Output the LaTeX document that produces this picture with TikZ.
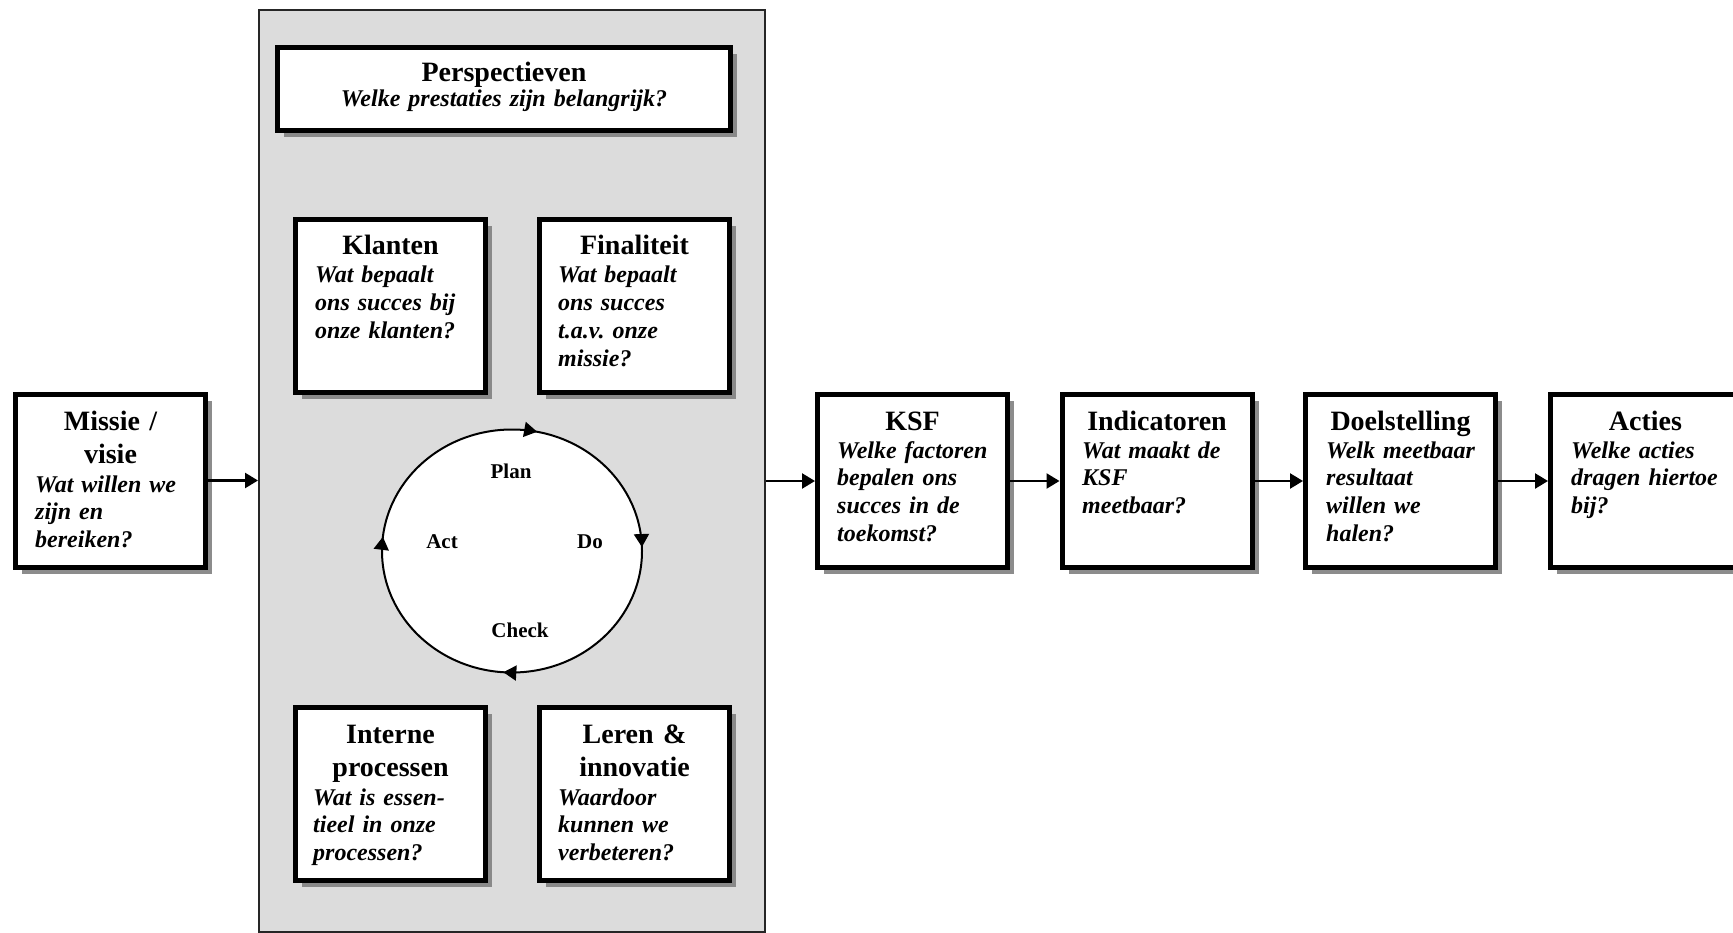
\documentclass[tikz,border=0pt]{standalone}
\usepackage{fontspec}
\setmainfont{Liberation Serif}
\usetikzlibrary{arrows.meta,shadows,decorations.markings}
\definecolor{panelgray}{RGB}{220,220,220}
\frenchspacing
\begin{document}
\frenchspacing
\begin{tikzpicture}[x=1pt,y=1pt,
  box/.style={draw=black, line width=5pt, fill=white, inner sep=0pt,
    minimum width=190pt, minimum height=173pt,
    drop shadow={shadow xshift=6.5pt, shadow yshift=-6.5pt, fill=black!50, opacity=0.9}},
  panelbox/.style={draw=black!85, line width=2pt, fill=panelgray, inner sep=0pt,
    minimum width=506pt, minimum height=922pt, anchor=north west},
  boxtitle/.style={font=\fontsize{28}{33}\selectfont\bfseries, inner sep=0pt,
    text width=190pt, align=center, anchor=base},
  boxbody/.style={font=\fontsize{24}{27.7}\selectfont\bfseries\itshape, inner sep=0pt,
    text width=180pt, align=left, anchor=base west},
  cyclelabel/.style={font=\fontsize{21}{24}\selectfont\bfseries, inner sep=0pt, anchor=base},
  arr/.style={line width=2.5pt, -{Triangle[length=13pt,width=15pt]}},
  cyctip/.style={},
  cyc/.style={line width=2pt, fill=white, postaction={decorate},
    decoration={markings,
      mark=at position 0.005 with {\arrowreversed{Triangle[length=13pt,width=15pt]}},
      mark=at position 0.218 with {\arrowreversed{Triangle[length=13pt,width=15pt]}},
      mark=at position 0.482 with {\arrowreversed{Triangle[length=13pt,width=15pt]}},
      mark=at position 0.739 with {\arrowreversed{Triangle[length=13pt,width=15pt]}}}}
]
\useasboundingbox (0,0) rectangle (1733,-933);

% panel
\node[panelbox] (panel) at (258,-9) {};

% boxes
\node[box] (missie) at (110.5,-480.5) {};
\node[box, minimum width=453pt, minimum height=83pt] (persp) at (504,-89) {};
\node[box] (klanten) at (390.5,-306) {};
\node[box] (final) at (634.5,-306) {};
\node[box] (intern) at (390.5,-794) {};
\node[box] (leren) at (634.5,-794) {};
\node[box] (ksf) at (912.5,-481) {};
\node[box] (ind) at (1157,-481) {};
\node[box] (doel) at (1400.5,-481) {};
\node[box] (acties) at (1645.5,-481) {};

% titles
\node[boxtitle] (missieT) at (110.5,-430) {Missie /\\visie};
\node[boxtitle, text width=453pt] (perspT) at (504,-82) {Perspectieven};
\node[boxtitle] (klantenT) at (390.5,-255) {Klanten};
\node[boxtitle] (finalT) at (634.5,-255) {Finaliteit};
\node[boxtitle] (internT) at (390.5,-743) {Interne\\processen};
\node[boxtitle] (lerenT) at (634.5,-743) {Leren \&\\innovatie};
\node[boxtitle] (ksfT) at (912.5,-430) {KSF};
\node[boxtitle] (indT) at (1157,-430) {Indicatoren};
\node[boxtitle] (doelT) at (1400.5,-430) {Doelstelling};
\node[boxtitle] (actiesT) at (1645.5,-430) {Acties};

% bodies
\node[boxbody, text width=453pt, align=center, anchor=base] (perspB) at (504,-107) {Welke prestaties zijn belangrijk?};
\node[boxbody] (missieB) at (35,-492) {Wat willen we\\zijn en\\bereiken?};
\node[boxbody] (klantenB) at (315,-283) {Wat bepaalt\\ons succes bij\\onze klanten?};
\node[boxbody] (finalB) at (558,-283) {Wat bepaalt\\ons succes\\t.a.v.\ onze\\missie?};
\node[boxbody] (internB) at (313,-805) {Wat is essen-\\tieel in onze\\processen?};
\node[boxbody] (lerenB) at (558,-805) {Waardoor\\kunnen we\\verbeteren?};
\node[boxbody] (ksfB) at (837,-458) {Welke factoren\\bepalen ons\\succes in de\\toekomst?};
\node[boxbody] (indB) at (1082,-458) {Wat maakt de\\KSF\\meetbaar?};
\node[boxbody] (doelB) at (1326,-458) {Welk meetbaar\\resultaat\\willen we\\halen?};
\node[boxbody] (actiesB) at (1571,-458) {Welke acties\\dragen hiertoe\\bij?};

% PDCA cycle
\draw[cyc] (512,-551) ellipse [x radius=130, y radius=121.5];
\node[cyclelabel] (plan) at (511,-478) {Plan};
\node[cyclelabel] (do) at (590,-548) {Do};
\node[cyclelabel] (check) at (520,-637) {Check};
\node[cyclelabel] (act) at (442,-548) {Act};

% connectors
\draw[arr] (missie.east) -- (missie.east -| panel.west);
\draw[arr] (panel.east |- ksf.west) -- (ksf.west);
\draw[arr] (ksf.east) -- (ind.west);
\draw[arr] (ind.east) -- (doel.west);
\draw[arr] (doel.east) -- (acties.west);
\end{tikzpicture}
\end{document}
